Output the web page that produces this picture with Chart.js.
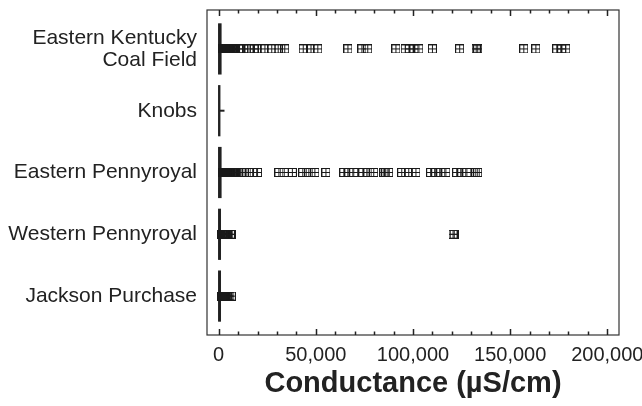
<!DOCTYPE html>
<html>
<head>
<meta charset="utf-8">
<script src="https://cdn.jsdelivr.net/npm/chart.js@4.4.1/dist/chart.umd.min.js"></script>
<style>
  html, body { margin: 0; padding: 0; background: #fff; }
  #wrap { width: 642px; height: 406px; position: relative; }
</style>
</head>
<body>
<div id="wrap"><canvas id="boxChart"></canvas></div>
<script>
// categories, top to bottom
const categories = [['Eastern Kentucky', 'Coal Field'], 'Knobs', 'Eastern Pennyroyal', 'Western Pennyroyal', 'Jackson Purchase'];
const xTickValues = [0, 50000, 100000, 150000, 200000];

// box statistics (uS/cm)
const q1 = [0, 0, 0, 0, 0];
const medians = [500, 300, 500, 400, 400];
const q3 = [1200, 600, 1200, 900, 900];
const whiskerHigh = [2600, 3000, 2600, 2200, 2200];

// outliers per category
const outliersEKCF = [1800, 2100, 2400, 2700, 3000, 3300, 3600, 3900, 4200, 4500, 4800, 5100, 5500, 5900, 6300, 6700, 7100,
  7500, 7900, 8400, 8900, 10200, 12800, 15600, 18400, 20200,
  23800, 27300, 30600, 34000, 43500, 47500, 51000, 66500, 73700, 76700,
  91200, 96000, 98000, 100500, 103000, 110000, 124000, 132500, 133300, 157000, 163200, 174000, 176500, 178600];
const outliersKnobs = [];
const outliersEP = [1800, 2100, 2400, 2700, 3000, 3300, 3600, 3900, 4200, 4500, 4800, 5100, 5500, 5900, 6300, 6700, 7100,
  7500, 8000, 8500, 9300, 11500, 14500, 17500, 20000,
  31000, 33700, 37900, 43300, 46400, 49500, 55200, 64400, 67000, 69500, 74200, 76800, 79800,
  85000, 86000, 87500, 94200, 97800, 101500, 109100, 111700, 114300, 116900, 122500, 125100, 127700, 132300, 133300];
const outliersWP = [1700, 2000, 2300, 2600, 2900, 3300, 3700, 4100, 4600, 5200, 6000, 6600, 120600, 121200];
const outliersJP = [1700, 2000, 2300, 2600, 2900, 3300, 3700, 4100, 4600, 5200, 5800, 6500];
const outliers = [outliersEKCF, outliersKnobs, outliersEP, outliersWP, outliersJP];

const ink = '#222';

// square-with-plus marker
function makeMarker() {
    const c = document.createElement('canvas');
    c.width = 9; c.height = 9;
    const g = c.getContext('2d');
    g.strokeStyle = '#1a1a1a';
    g.lineWidth = 1;
    g.strokeRect(0.5, 0.5, 8, 8);
    g.beginPath();
    g.moveTo(4.5, 0); g.lineTo(4.5, 9);
    g.moveTo(0, 4.5); g.lineTo(9, 4.5);
    g.stroke();
    return c;
}

const yPos = (i) => categories.length - i;

const points = [];
outliers.forEach((list, i) => list.forEach(v => points.push({ x: v, y: yPos(i) })));

// boxes, whiskers, frame and inward tick marks
const boxPlugin = {
    id: 'boxes',
    beforeDatasetsDraw(chart) {
        const { ctx, scales: { x, y } } = chart;
        ctx.save();
        ctx.strokeStyle = ink;
        ctx.fillStyle = ink;
        categories.forEach((c, i) => {
            const cy = y.getPixelForValue(yPos(i));
            const x1 = x.getPixelForValue(q1[i]);
            const x3 = x.getPixelForValue(q3[i]);
            // whisker
            ctx.lineWidth = 2;
            ctx.beginPath();
            ctx.moveTo(x3, cy);
            ctx.lineTo(x.getPixelForValue(whiskerHigh[i]), cy);
            ctx.stroke();
            // box
            ctx.lineWidth = 1.2;
            ctx.fillRect(x1, cy - 25, x3 - x1, 50);
            ctx.strokeRect(x1, cy - 25, x3 - x1, 50);
        });
        ctx.restore();
    },
    afterDraw(chart) {
        const { ctx, chartArea: a, scales: { x } } = chart;
        ctx.save();
        ctx.strokeStyle = '#333';
        ctx.lineWidth = 1.2;
        ctx.strokeRect(a.left, a.top, a.right - a.left, a.bottom - a.top);
        ctx.strokeStyle = ink;
        ctx.lineWidth = 1.5;
        ctx.beginPath();
        for (let v = 0; v <= x.max; v += 10000) {
            const px = Math.round(x.getPixelForValue(v)) + 0.5;
            const len = v % 50000 === 0 ? 6 : 3.5;
            ctx.moveTo(px, a.bottom); ctx.lineTo(px, a.bottom - len);
            ctx.moveTo(px, a.top); ctx.lineTo(px, a.top + len);
        }
        ctx.stroke();
        ctx.restore();
    }
};

const ctx = document.getElementById('boxChart').getContext('2d');
new Chart(ctx, {
    type: 'scatter',
    data: {
        datasets: [{
            data: points,
            pointStyle: makeMarker(),
            pointRadius: 4.5,
            pointHoverRadius: 4.5
        }]
    },
    options: {
        responsive: true,
        maintainAspectRatio: false,
        animation: false,
        layout: { padding: { top: 10, right: 23, left: 0, bottom: 0 } },
        plugins: { legend: { display: false }, tooltip: { enabled: false } },
        scales: {
            x: {
                type: 'linear',
                min: -6000,
                max: 206000,
                afterBuildTicks: (s) => { s.ticks = xTickValues.map(v => ({ value: v })); },
                afterFit: (s) => { s.height = 71; s.paddingLeft = 0; s.paddingRight = 0; },
                grid: { display: false, drawTicks: false },
                border: { display: false },
                ticks: {
                    color: ink,
                    padding: 8,
                    maxRotation: 0,
                    font: { family: '"Liberation Sans", Arial, sans-serif', size: 20 },
                    callback: (v) => v.toLocaleString('en-US')
                },
                title: {
                    display: true,
                    text: 'Conductance (µS/cm)',
                    color: ink,
                    padding: { top: 0, bottom: 5 },
                    font: { family: '"Liberation Sans", Arial, sans-serif', size: 29, weight: 'bold' }
                }
            },
            y: {
                type: 'linear',
                min: 0.37,
                max: 5.63,
                afterBuildTicks: (s) => { s.ticks = categories.map((c, i) => ({ value: yPos(i) })); },
                afterFit: (s) => { s.width = 207; s.paddingTop = 0; s.paddingBottom = 0; },
                grid: { display: false, drawTicks: false },
                border: { display: false },
                ticks: {
                    color: ink,
                    padding: 10,
                    font: { family: '"Liberation Sans", Arial, sans-serif', size: 21, lineHeight: 1.05 },
                    callback: (v) => categories[categories.length - v]
                }
            }
        }
    },
    plugins: [boxPlugin]
});
</script>
</body>
</html>
